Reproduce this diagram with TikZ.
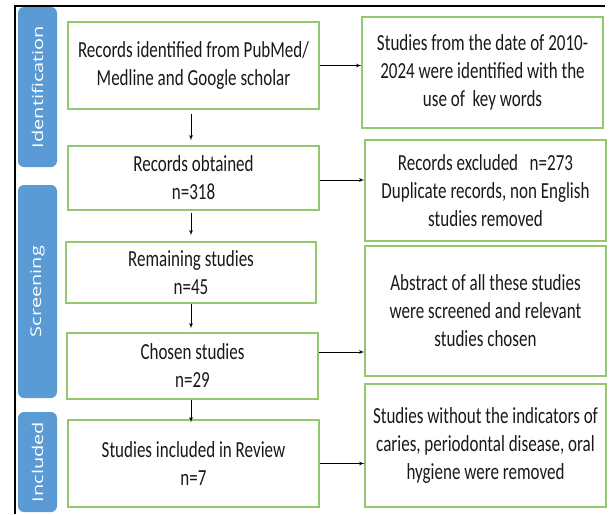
\documentclass[tikz,border=0pt]{standalone}
\usepackage{fontspec}
\setmainfont{Carlito}[FakeStretch=0.74]
\newfontfamily\tabfont{Open Sans}
\usepackage{tikz}
\usetikzlibrary{arrows}
\definecolor{tabblue}{RGB}{91,155,213}
\definecolor{boxgreen}{RGB}{146,200,110}
\definecolor{inkgray}{RGB}{25,25,25}

\begin{document}
\begin{tikzpicture}
        [
        x=1pt, y=-1pt,
        stage/.style={rectangle,draw=boxgreen,line width=1.2pt,align=center,inner sep=2pt,text=inkgray,font=\fontsize{23}{28}\selectfont},
        phase/.style={rectangle,rounded corners=6pt,fill=tabblue,text=white,rotate=90,minimum height=39pt,inner sep=0pt,font=\tabfont\fontsize{20}{24}\selectfont},
        edge/.style={->,> = latex',line width=0.8pt}
        ]
    \useasboundingbox (0,0) rectangle (610,514);
    \draw[line width=2pt] (15,514) -- (15,6) -- (605,6);
    % phases
    \node[phase,minimum width=160pt] (identification) at (37.5,87) {\scalebox{1}[0.74]{Identification}};
    \node[phase,minimum width=213pt] (screening) at (37.5,291.5) {\scalebox{1}[0.74]{Screening}};
    \node[phase,minimum width=100pt] (included) at (37.5,462) {\scalebox{1}[0.74]{Included}};
    % main column
    \node[stage,minimum width=251pt,minimum height=87pt] (found) at (193.5,65.5) {Records identified from PubMed/\\Medline and Google scholar};
    \node[stage,minimum width=251pt,minimum height=64pt] (obtained) at (193.5,178) {Records obtained\\n=318};
    \node[stage,minimum width=250pt,minimum height=61pt] (remaining) at (191,272.5) {Remaining studies\\n=45};
    \node[stage,minimum width=251pt,minimum height=66pt] (chosen) at (192.5,366) {Chosen studies\\n=29};
    \node[stage,minimum width=251pt,minimum height=87pt] (review) at (193.5,463.5) {Studies included in Review\\n=7};
    % side column
    \node[stage,minimum width=241pt,minimum height=111pt] (keywords) at (482.5,72.5) {Studies from the date of 2010-\\2024 were identified with the\\use of~ key words};
    \node[stage,minimum width=241pt,minimum height=101pt] (excluded) at (485.5,190.5) {Records excluded~~ n=273\\Duplicate records, non English\\studies removed};
    \node[stage,minimum width=241pt,minimum height=130pt] (abstracts) at (485.5,311) {Abstract of all these studies\\were screened and relevant\\studies chosen};
    \node[stage,minimum width=241pt,minimum height=123pt] (indicators) at (485.5,445.5) {Studies without the indicators of\\caries, periodontal disease, oral\\hygiene were removed};
    % flow
    \draw[edge,shorten <=4pt,shorten >=5pt] (found.south -| remaining) -- (obtained.north -| remaining);
    \draw[edge,shorten <=2pt,shorten >=6pt] (obtained.south -| remaining) -- (remaining.north);
    \draw[edge,shorten >=4pt] (remaining.south) -- (chosen.north -| remaining);
    \draw[edge,shorten >=-3pt] (chosen.south -| remaining) -- (review.north -| remaining);
    \draw[edge] (found.east) -- (found.east -| keywords.west);
    \draw[edge] ([yshift=-2pt]obtained.east) -- ([yshift=-2pt]obtained.east -| excluded.west);
    \draw[edge] ([yshift=14pt]chosen.east) -- ([yshift=14pt]chosen.east -| abstracts.west);
    \draw[edge] (review.east) -- (review.east -| indicators.west);
\end{tikzpicture}
\end{document}
